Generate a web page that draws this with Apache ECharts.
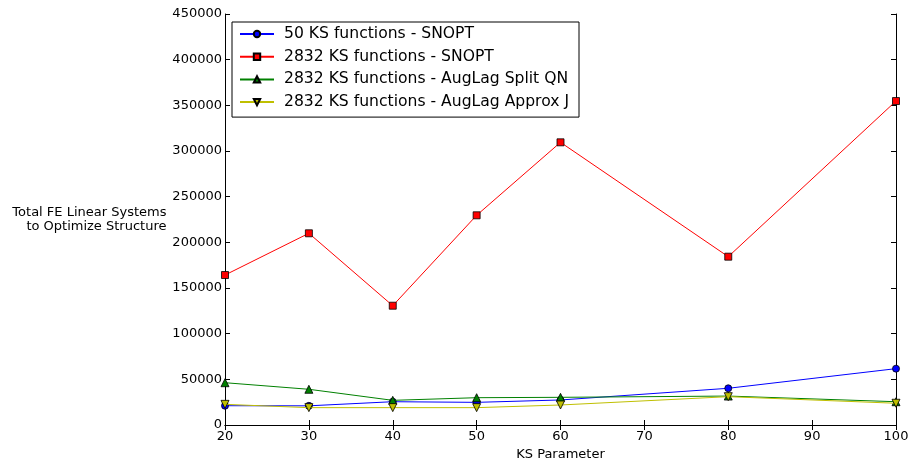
<!DOCTYPE html>
<html>
<head>
<meta charset="utf-8">
<script src="https://cdn.jsdelivr.net/npm/echarts@6/dist/echarts.min.js"></script>
<style>
    html, body { margin: 0; padding: 0; background: #fff; }
    #chart { width: 910px; height: 460px; }
</style>
</head>
<body>
<div id="chart"></div>
<script>
    // KS parameter values (x axis)
    const ksParam = [20, 30, 40, 50, 60, 80, 100];
    const seriesNames = [
        '50 KS functions - SNOPT',
        '2832 KS functions - SNOPT',
        '2832 KS functions - AugLag Split QN',
        '2832 KS functions - AugLag Approx J'
    ];
    const snopt50 = [21100, 21000, 25500, 24800, 27400, 40200, 61700];
    const snopt2832 = [164200, 209900, 130600, 229600, 309500, 184300, 354700];
    const augSplitQN = [46300, 39100, 27000, 29900, 30300, 31700, 25500];
    const augApproxJ = [22600, 19000, 19000, 19000, 21900, 31000, 23800];
    const yTicks = [0, 50000, 100000, 150000, 200000, 250000, 300000, 350000, 400000, 450000];

    const font = 'DejaVu Sans';
    const colors = ['#0000ff', '#ff0000', '#008000', '#bfbf00'];
    const symbols = ['circle', 'rect', 'triangle', 'triangle'];
    const rotates = [0, 0, 0, 180];
    const values = [snopt50, snopt2832, augSplitQN, augApproxJ];

    const chart = echarts.init(document.getElementById('chart'));

    const tick = { show: true, inside: true, length: 5, lineStyle: { color: '#000' } };
    const axLine = { show: true, lineStyle: { color: '#000', width: 1 } };

    const option = {
        animation: false,
        textStyle: { fontFamily: font },
        grid: { left: 225, right: 14, top: 14, bottom: 35, outerBoundsMode: 'none', containLabel: false },
        legend: {
            orient: 'vertical',
            left: 232,
            top: 22,
            padding: [4, 10, 7, 7],
            itemGap: 6.7,
            itemWidth: 34,
            itemHeight: 8,
            backgroundColor: '#fff',
            borderColor: '#000',
            borderWidth: 1,
            borderRadius: 0,
            textStyle: { fontFamily: font, fontSize: 15.6, color: '#000', lineHeight: 16, padding: [0, 0, 0, 5] },
            data: seriesNames
        },
        xAxis: [
            {
                type: 'value', min: 20, max: 100, interval: 10,
                name: 'KS Parameter', nameLocation: 'middle', nameGap: 16,
                nameTextStyle: { fontFamily: font, fontSize: 13, color: '#000' },
                axisLine: axLine, axisTick: tick, splitLine: { show: false },
                axisLabel: { fontFamily: font, fontSize: 13, color: '#000', margin: 5 }
            },
            {
                type: 'value', position: 'top', min: 20, max: 100, interval: 10,
                axisLine: axLine, axisTick: tick, splitLine: { show: false },
                axisLabel: { show: false }
            }
        ],
        yAxis: [
            {
                type: 'value', min: yTicks[0], max: yTicks[yTicks.length - 1], interval: 50000,
                name: 'Total FE Linear Systems\nto Optimize Structure',
                nameLocation: 'middle', nameRotate: 0, nameGap: 57,
                nameTextStyle: { fontFamily: font, fontSize: 13, color: '#000', align: 'right', lineHeight: 14 },
                axisLine: axLine, axisTick: tick, splitLine: { show: false },
                axisLabel: { fontFamily: font, fontSize: 13, color: '#000', margin: 3, formatter: v => String(v) }
            },
            {
                type: 'value', position: 'right', min: yTicks[0], max: yTicks[yTicks.length - 1], interval: 50000,
                axisLine: axLine, axisTick: tick, splitLine: { show: false },
                axisLabel: { show: false }
            }
        ],
        series: seriesNames.map((name, i) => ({
            name: name,
            type: 'line',
            data: ksParam.map((k, j) => [k, values[i][j]]),
            symbol: symbols[i],
            symbolRotate: rotates[i],
            symbolSize: symbols[i] === 'triangle' ? 8 : 7,
            showAllSymbol: true,
            color: colors[i],
            lineStyle: { color: colors[i], width: 1 },
            itemStyle: { color: colors[i], borderColor: '#000', borderWidth: 0.8 },
            z: 2 + i
        }))
    };
    chart.setOption(option);
</script>
</body>
</html>
